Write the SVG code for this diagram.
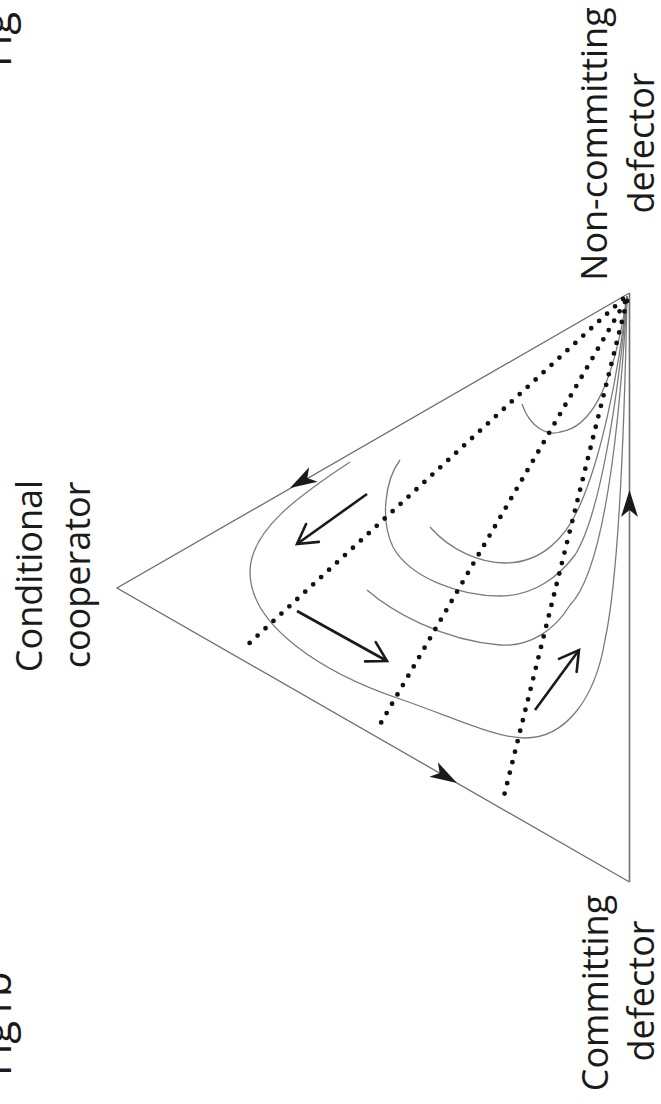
<svg xmlns="http://www.w3.org/2000/svg" width="661" height="1104" viewBox="0 0 661 1104">
<style>
.lbl{font-family:"Open Sans","Liberation Sans",sans-serif;font-size:36px;fill:#1a1a1a;text-anchor:middle}
.fig{font-family:"Open Sans","Liberation Sans",sans-serif;font-size:42px;fill:#1a1a1a}
.edge{fill:none;stroke:#6e6e6e;stroke-width:1.3}
.traj{fill:none;stroke:#7a7a7a;stroke-width:1.3}
.dot{fill:none;stroke:#111111;stroke-width:4.8;stroke-linecap:round;stroke-dasharray:0 10.8}
.arr{fill:none;stroke:#1a1a1a;stroke-width:2.6;marker-end:url(#open)}
</style>
<defs>
<marker id="open" markerUnits="userSpaceOnUse" orient="auto" refX="0" refY="0" markerWidth="30" markerHeight="30" overflow="visible">
<path d="M-19,-11 L0,0 L-19,11" fill="none" stroke="#1a1a1a" stroke-width="2.6" stroke-linecap="round" stroke-linejoin="miter"/>
</marker>
<path id="ah" d="M0,0 L-27,-8.5 L-20,0 L-27,8.5 Z" fill="#1a1a1a"/>
</defs>
<rect width="661" height="1104" fill="#ffffff"/>

<g id="fig-top"><text class="fig" transform="translate(11,67) rotate(-90)">Fig</text></g>
<g id="fig-bottom"><text class="fig" transform="translate(11,1076) rotate(-90)">Fig1b</text></g>

<g id="node-noncommitting">
<text class="lbl" transform="translate(607,144) rotate(-90)">Non-committing</text>
<text class="lbl" transform="translate(654,143) rotate(-90)">defector</text>
</g>
<g id="node-conditional">
<text class="lbl" transform="translate(42,576) rotate(-90)">Conditional</text>
<text class="lbl" transform="translate(90,575) rotate(-90)">cooperator</text>
</g>
<g id="node-committing">
<text class="lbl" transform="translate(608,993) rotate(-90)">Committing</text>
<text class="lbl" transform="translate(654,991) rotate(-90)">defector</text>
</g>

<g id="simplex">
<path class="edge" d="M629.5,293 L117,588 L629.5,882"/>
<path class="edge" d="M629.5,293 L629.5,882" style="stroke-width:1.6"/>
</g>

<g id="trajectories">
<path class="traj" d="M522,404 C530,428 548,436 560,432 C588,428 612,395 627,296"/>
<path class="traj" d="M430,527 C450,550 480,563 505,563 C540,563 565,540 580,505 C600,460 618,380 627,296"/>
<path class="traj" d="M400,460 C385,480 380,520 393,547 C410,578 460,596 500,596 C535,596 560,575 575,555 C600,515 618,400 627,296"/>
<path class="traj" d="M367,590 C390,610 440,640 500,645 C530,647 555,630 570,605 C605,570 620,420 627,296"/>
<path class="traj" d="M350,462 C300,495 250,530 250,572 C250,625 320,672 400,699 C455,718 495,738 525,738 C565,738 595,700 605,640 C618,580 624,450 627,296"/>
</g>

<g id="separatrices">
<path class="dot" d="M623,299 L243,649"/>
<path class="dot" d="M625,302 L378,728"/>
<path class="dot" d="M627,301 L503,800"/>
</g>

<g id="connectors">
<use href="#ah" transform="translate(290,488) rotate(150)"/>
<use href="#ah" transform="translate(457,783) rotate(30)"/>
<use href="#ah" transform="translate(629.5,490) rotate(-90)"/>
<path class="arr" d="M367,494 L297,544"/>
<path class="arr" d="M297,611 L387,661"/>
<path class="arr" d="M535,710 L579,650"/>
</g>
</svg>
